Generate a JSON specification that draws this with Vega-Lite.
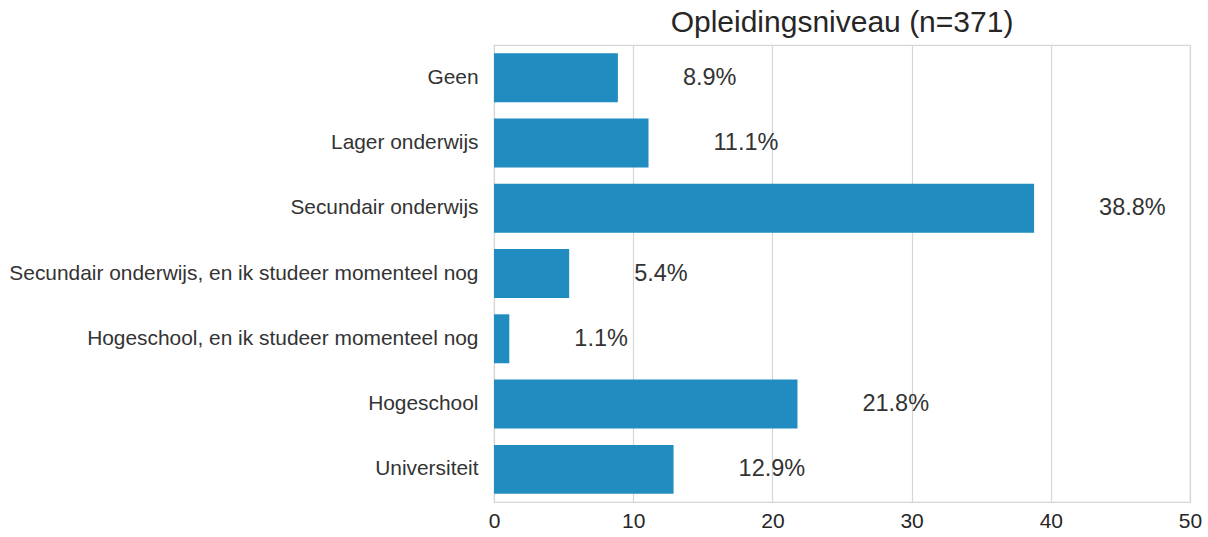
{
  "$schema": "https://vega.github.io/schema/vega-lite/v6.json",
  "width": 696,
  "height": 457,
  "autosize": {"type": "none"},
  "padding": {"left": 494, "top": 45, "right": 18, "bottom": 35},
  "background": "white",
  "title": {"text": "Opleidingsniveau (n=371)", "fontSize": 30, "font": "Liberation Sans", "fontWeight": "normal", "color": "#262626", "anchor": "middle", "offset": 7},
  "config": {
    "font": "Liberation Sans",
    "view": {"stroke": "#d6d6d6", "strokeWidth": 1.2}
  },
  "data": {"values": [
    {"niveau": "Geen", "pct": 8.9, "label": "8.9%"},
    {"niveau": "Lager onderwijs", "pct": 11.1, "label": "11.1%"},
    {"niveau": "Secundair onderwijs", "pct": 38.8, "label": "38.8%"},
    {"niveau": "Secundair onderwijs, en ik studeer momenteel nog", "pct": 5.4, "label": "5.4%"},
    {"niveau": "Hogeschool, en ik studeer momenteel nog", "pct": 1.1, "label": "1.1%"},
    {"niveau": "Hogeschool", "pct": 21.8, "label": "21.8%"},
    {"niveau": "Universiteit", "pct": 12.9, "label": "12.9%"}
  ]},
  "encoding": {
    "y": {"field": "niveau", "type": "nominal", "sort": null, "title": null,
      "scale": {"paddingInner": 0.25, "paddingOuter": 0.125},
      "axis": {"ticks": false, "domain": false, "labelFontSize": 20.9, "labelColor": "#333333", "labelPadding": 16, "labelLimit": 600, "grid": false}},
    "x": {"field": "pct", "type": "quantitative", "title": null,
      "scale": {"domain": [0, 50], "nice": false},
      "axis": {"values": [0, 10, 20, 30, 40, 50], "ticks": false, "domain": false, "labelFontSize": 21, "labelColor": "#262626", "labelPadding": 8, "grid": true, "gridColor": "#d6d6d6", "gridWidth": 1.2, "labelFlush": false}}
  },
  "layer": [
    {"mark": {"type": "bar", "color": "#208cc0"}},
    {"mark": {"type": "text", "align": "left", "baseline": "middle", "dx": 65, "fontSize": 23.5, "color": "#333333"},
     "encoding": {"text": {"field": "label"}}}
  ]
}
